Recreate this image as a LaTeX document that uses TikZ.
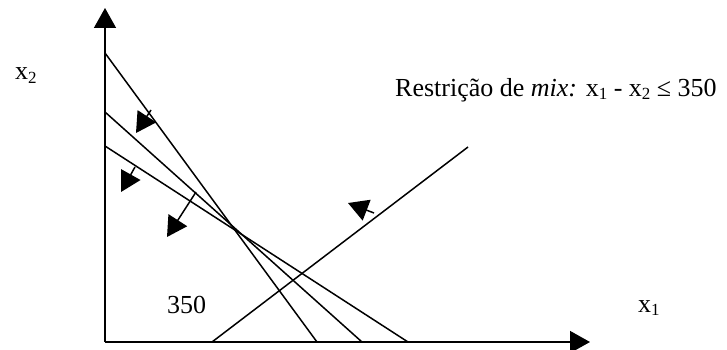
\documentclass[tikz,border=0pt]{standalone}
\usepackage{fontspec}
\setmainfont{Liberation Serif}
\usetikzlibrary{arrows.meta}
\newcommand\lowsub[1]{\raisebox{-0.28ex}{\fontsize{17}{17}\selectfont #1}}
\begin{document}
\begin{tikzpicture}[x=1pt,y=-1pt,
  ln/.style={line width=1.5pt},
  bigarrow/.style={ln,-{Triangle[length=20pt,width=22pt]}},
  lbl/.style={font=\fontsize{26}{30}\selectfont,inner sep=0pt,anchor=base west}]
\useasboundingbox (0,0) rectangle (727,350);
% axes
\coordinate (O) at (105,342);
\coordinate (Ytip) at (105,8);
\coordinate (Xtip) at (590,342);
\draw[bigarrow] (O) -- (Ytip);
\draw[bigarrow] (O) -- (Xtip);
% constraint lines
\coordinate (A1) at (105,53);  \coordinate (A2) at (317,342);
\coordinate (B1) at (105,112); \coordinate (B2) at (362,342);
\coordinate (C1) at (105,146); \coordinate (C2) at (408,342);
\coordinate (M1) at (212,342); \coordinate (M2) at (468,147);
\draw[ln] (A1) -- (A2);
\draw[ln] (B1) -- (B2);
\draw[ln] (C1) -- (C2);
\draw[ln] (M1) -- (M2);
% direction arrows
\coordinate (a1s) at (151,110); \coordinate (a1t) at (136,133);
\coordinate (a2s) at (135,167); \coordinate (a2t) at (121,192);
\coordinate (a3s) at (196,192); \coordinate (a3t) at (167,237);
\coordinate (a4s) at (374,213); \coordinate (a4t) at (348,203);
\draw[bigarrow] (a1s) -- (a1t);
\draw[bigarrow] (a2s) -- (a2t);
\draw[bigarrow] (a3s) -- (a3t);
\draw[bigarrow] (a4s) -- (a4t);
% labels
\node[lbl] (lx2) at (15,80) {x\lowsub{2}};
\node[lbl] (lx1) at (638,312) {x\lowsub{1}};
\node[lbl] (l350) at (167,313) {350};
\node[lbl] (lmix) at (395,96) {Restrição de \textit{mix:} x\lowsub{1} - x\lowsub{2} ≤ 350};
\end{tikzpicture}
\end{document}
